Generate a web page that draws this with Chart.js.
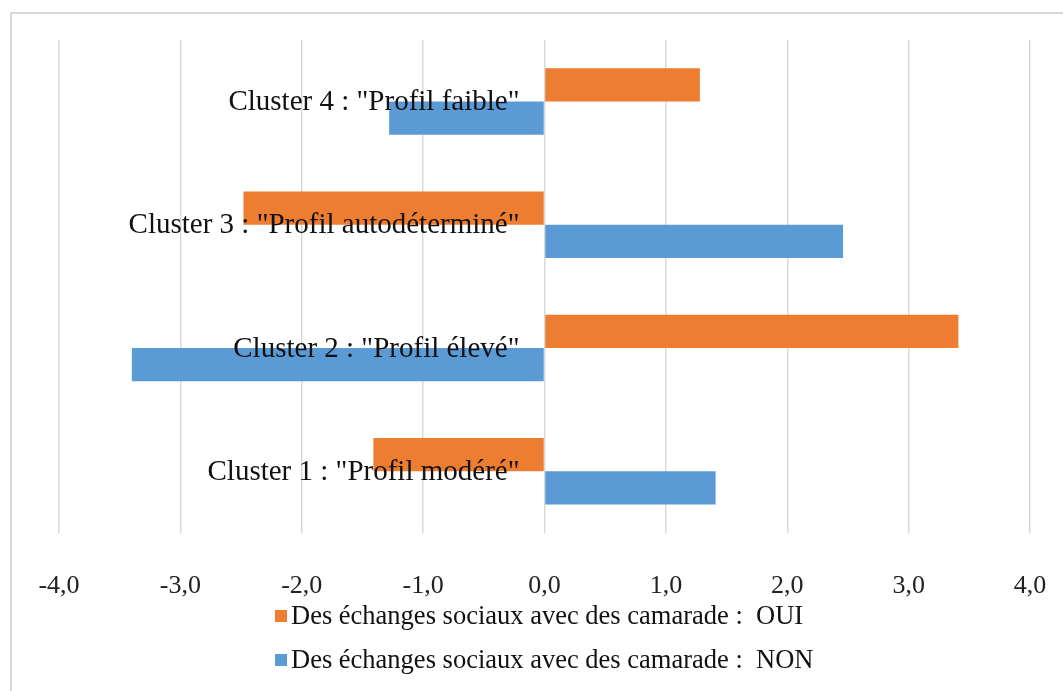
<!DOCTYPE html>
<html>
<head>
<meta charset="utf-8">
<script src="https://cdn.jsdelivr.net/npm/chart.js@4"></script>
<style>
  body { margin: 0; background: #fff; }
  #cadre {
    position: absolute; left: 10px; top: 12px; width: 1100px; height: 720px;
    border-top: 2px solid #d9d9d9; border-left: 2px solid #d9d9d9;
  }
  #myChart { position: absolute; left: 0; top: 0; }
</style>
</head>
<body>
<div id="cadre"></div>
<canvas id="myChart" width="1063" height="691"></canvas>
<script>
// categories du haut vers le bas
const clusters = [
  'Cluster 4 : "Profil faible"',
  'Cluster 3 : "Profil autodéterminé"',
  'Cluster 2 : "Profil élevé"',
  'Cluster 1 : "Profil modéré"'
];
const oui = [1.28, -2.48, 3.41, -1.41];
const non = [-1.28, 2.46, -3.40, 1.41];
const seriesNames = [
  'Des échanges sociaux avec des camarade :  OUI',
  'Des échanges sociaux avec des camarade :  NON'
];
const couleurs = ['#ED7D31', '#5B9BD5'];

const police = '"Liberation Serif", serif';

// etiquettes des clusters dessinees a gauche du zero, par dessus les barres
const etiquettes = {
  id: 'etiquettes',
  afterDatasetsDraw(chart) {
    const ctx = chart.ctx;
    const x0 = chart.scales.x.getPixelForValue(0);
    ctx.save();
    ctx.font = '29px ' + police;
    ctx.fillStyle = '#111';
    ctx.textAlign = 'right';
    ctx.textBaseline = 'middle';
    clusters.forEach((c, i) => {
      ctx.fillText(c, x0 - 25, chart.scales.y.getPixelForValue(i) + 1);
    });
    ctx.restore();
  }
};

// legende sur deux lignes, alignee a gauche
const legende = {
  id: 'legende',
  afterDraw(chart) {
    const ctx = chart.ctx;
    ctx.save();
    ctx.font = '26.5px ' + police;
    ctx.textBaseline = 'middle';
    ctx.textAlign = 'left';
    chart.data.datasets.forEach((ds, i) => {
      const y = 616 + i * 44;
      ctx.fillStyle = ds.backgroundColor;
      ctx.fillRect(275, y - 6, 12, 12);
      ctx.fillStyle = '#111';
      ctx.fillText(ds.label, 291, y + 1);
    });
    ctx.restore();
  }
};

const ctx = document.getElementById('myChart').getContext('2d');

const myChart = new Chart(ctx, {
  type: 'bar',
  data: {
    labels: clusters,
    datasets: [{
      label: seriesNames[0],
      data: oui,
      backgroundColor: couleurs[0]
    }, {
      label: seriesNames[1],
      data: non,
      backgroundColor: couleurs[1]
    }]
  },
  options: {
    indexAxis: 'y',
    responsive: false,
    animation: false,
    barPercentage: 1,
    categoryPercentage: 0.54,
    layout: { padding: { left: 59, right: 33, top: 40, bottom: 51 } },
    scales: {
      x: {
        min: -4, max: 4,
        // pas de marge auto pour les etiquettes extremes
        afterFit: s => { s.paddingLeft = 0; s.paddingRight = 0; },
        ticks: {
          stepSize: 1,
          color: '#222',
          padding: 38,
          font: { family: police, size: 26 },
          callback: v => v.toFixed(1).replace('.', ',')
        },
        grid: { color: '#d9d9d9', lineWidth: 1.5, drawTicks: false },
        border: { display: false }
      },
      y: { display: false }
    },
    plugins: {
      legend: { display: false },
      tooltip: { enabled: false }
    }
  },
  plugins: [etiquettes, legende]
});
</script>
</body>
</html>
